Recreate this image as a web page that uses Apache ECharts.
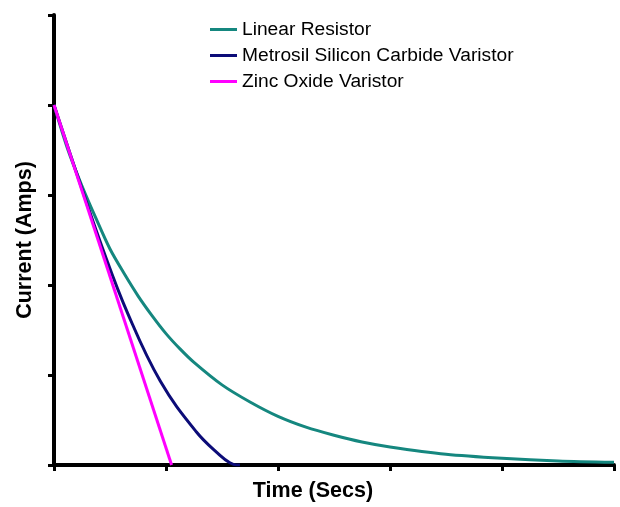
<!DOCTYPE html>
<html>
<head>
<meta charset="utf-8">
<script src="https://cdn.jsdelivr.net/npm/echarts@6/dist/echarts.min.js"></script>
<style>
  html, body { margin: 0; padding: 0; background: #fff; }
  #chart { width: 620px; height: 507px; }
</style>
</head>
<body>
<div id="chart"></div>
<script>
// Series names
const seriesNames = ["Linear Resistor", "Metrosil Silicon Carbide Varistor", "Zinc Oxide Varistor"];

// Linear Resistor: [time, current]
const linearResistor = [
  [0, 4], [0.125, 3.5], [0.25, 3.1], [0.375, 2.74], [0.5, 2.4], [0.625, 2.13],
  [0.75, 1.88], [0.875, 1.66], [1.0, 1.46], [1.125, 1.29], [1.25, 1.14],
  [1.5, 0.89], [1.75, 0.70], [2.0, 0.54], [2.25, 0.42], [2.5, 0.33],
  [2.75, 0.255], [3.0, 0.20], [3.5, 0.12], [4.0, 0.075], [4.5, 0.045], [5.0, 0.03]
];

// Metrosil Silicon Carbide Varistor
const metrosil = [
  [0, 4], [0.2, 3.25], [0.43, 2.42], [0.66, 1.68], [0.95, 0.93],
  [1.27, 0.37], [1.48, 0.11], [1.57, 0.025], [1.63, 0], [1.66, 0]
];

// Zinc Oxide Varistor
const zincOxide = [[0, 4], [1.05, 0]];

const xAxisTitle = "Time (Secs)";
const yAxisTitle = "Current (Amps)";

const chart = echarts.init(document.getElementById('chart'), null, { renderer: 'canvas' });
const axisCommon = {
  type: 'value',
  min: 0, max: 5, interval: 1,
  splitLine: { show: false },
  axisLabel: { show: false },
  axisLine: { show: true, onZero: false, lineStyle: { color: '#000', width: 4 } },
  axisTick: { show: true, inside: false, length: 6, lineStyle: { color: '#000', width: 3 } },
  nameLocation: 'middle',
  nameTextStyle: { fontFamily: 'Liberation Sans, Arial, sans-serif', fontWeight: 'bold', fontSize: 21.5, color: '#000' }
};
chart.setOption({
  animation: false,
  backgroundColor: '#fff',
  grid: { left: 54, right: 6, top: 15, bottom: 40, containLabel: false },
  legend: {
    orient: 'vertical',
    left: 205, top: 15,
    itemWidth: 27, itemHeight: 3, itemGap: 7,
    icon: 'rect',
    textStyle: { fontFamily: 'Liberation Sans, Arial, sans-serif', fontSize: 19.2, color: '#000' },
    data: seriesNames
  },
  xAxis: Object.assign({}, axisCommon, {
    name: xAxisTitle, nameGap: 15,
    nameTextStyle: Object.assign({}, axisCommon.nameTextStyle, { padding: [0, 42, 0, 0] })
  }),
  yAxis: Object.assign({}, axisCommon, {
    name: yAxisTitle, nameGap: 18
  }),
  series: [
    { name: seriesNames[0], type: 'line', data: linearResistor, smooth: 0.3, showSymbol: false, symbol: 'none',
      lineStyle: { color: '#15877f', width: 3 }, itemStyle: { color: '#15877f' } },
    { name: seriesNames[1], type: 'line', data: metrosil, smooth: 0.4, showSymbol: false, symbol: 'none',
      lineStyle: { color: '#0c0c78', width: 3 }, itemStyle: { color: '#0c0c78' } },
    { name: seriesNames[2], type: 'line', data: zincOxide, showSymbol: false, symbol: 'none',
      lineStyle: { color: '#ff00ff', width: 3 }, itemStyle: { color: '#ff00ff' } }
  ]
});
</script>
</body>
</html>
